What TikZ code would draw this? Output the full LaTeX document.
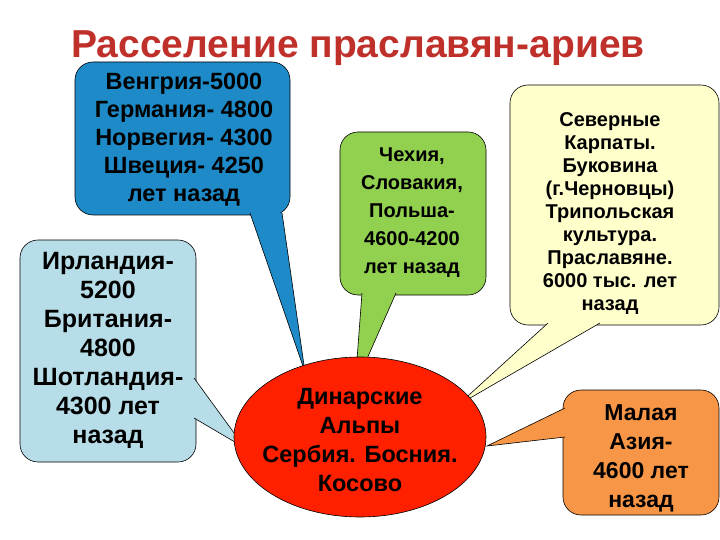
\documentclass[tikz,border=0pt]{standalone}
\usepackage{fontspec}
\setmainfont{Liberation Sans}
\begin{document}
\begin{tikzpicture}[x=1pt,y=-1pt,
  box/.style={draw=black,line width=0.6pt,rounded corners=18pt},
  tail/.style={draw=black,line width=0.6pt},
  txt/.style={align=center,font=\bfseries,inner sep=0pt}]
\useasboundingbox (0,0) rectangle (720,540);
\definecolor{cblue}{HTML}{1E8BC8}
\definecolor{clblue}{HTML}{B7DEE8}
\definecolor{cgreen}{HTML}{92D050}
\definecolor{cyell}{HTML}{FFFFCC}
\definecolor{corange}{HTML}{F79646}
\definecolor{cred}{HTML}{FF2000}
\definecolor{ctitle}{HTML}{C0302A}
\node[font=\bfseries\fontsize{39}{44}\selectfont,text=ctitle] (title) at (358,48) {Расселение праславян-ариев};
% blue
\path[box,fill=cblue] (75,62) rectangle (290,215);
\filldraw[tail,fill=cblue] (250,213) -- (305,372) -- (282,213);
\node[txt,font=\bfseries\fontsize{23.5}{28}\selectfont] (b) at (184,140) {Венгрия-5000\\Германия- 4800\\Норвегия- 4300\\Швеция- 4250\\лет назад};
% light blue
\path[box,fill=clblue] (20,240) rectangle (196,462);
\filldraw[tail,fill=clblue] (194,378) -- (245,448) -- (194,418);
\node[txt,font=\bfseries\fontsize{25}{29}\selectfont] (lb) at (108,350) {Ирландия-\\5200\\Британия-\\4800\\Шотландия-\\4300 лет\\назад};
% green
\path[box,fill=cgreen] (340,132) rectangle (486,295);
\filldraw[tail,fill=cgreen] (362,293) -- (355,386) -- (396,293);
\node[txt,font=\bfseries\fontsize{20}{28}\selectfont] (g) at (412,213) {Чехия,\\Словакия,\\Польша-\\4600-4200\\лет назад};
% yellow
\path[box,fill=cyell] (510,85) rectangle (719,325);
\filldraw[tail,fill=cyell] (548,323) -- (458,405) -- (600,323);
\node[txt,font=\bfseries\fontsize{20}{23}\selectfont] (y) at (610,214) {Северные\\Карпаты.\\Буковина\\(г.Черновцы)\\Трипольская\\культура.\\Праславяне.\\6000 тыс. лет\\назад};
% orange
\path[box,fill=corange] (563,390) rectangle (719,515);
\filldraw[tail,fill=corange] (565,408) -- (487,446) -- (565,437);
\node[txt,font=\bfseries\fontsize{23}{29}\selectfont] (o) at (641,458) {Малая\\Азия-\\4600 лет\\назад};
% ellipse
\filldraw[draw=black,line width=0.6pt,fill=cred] (360,437) ellipse [x radius=126,y radius=80];
\node[txt,font=\bfseries\fontsize{23.5}{29}\selectfont] (e) at (360,440) {Динарские\\Альпы\\Сербия. Босния.\\Косово};
\end{tikzpicture}
\end{document}
